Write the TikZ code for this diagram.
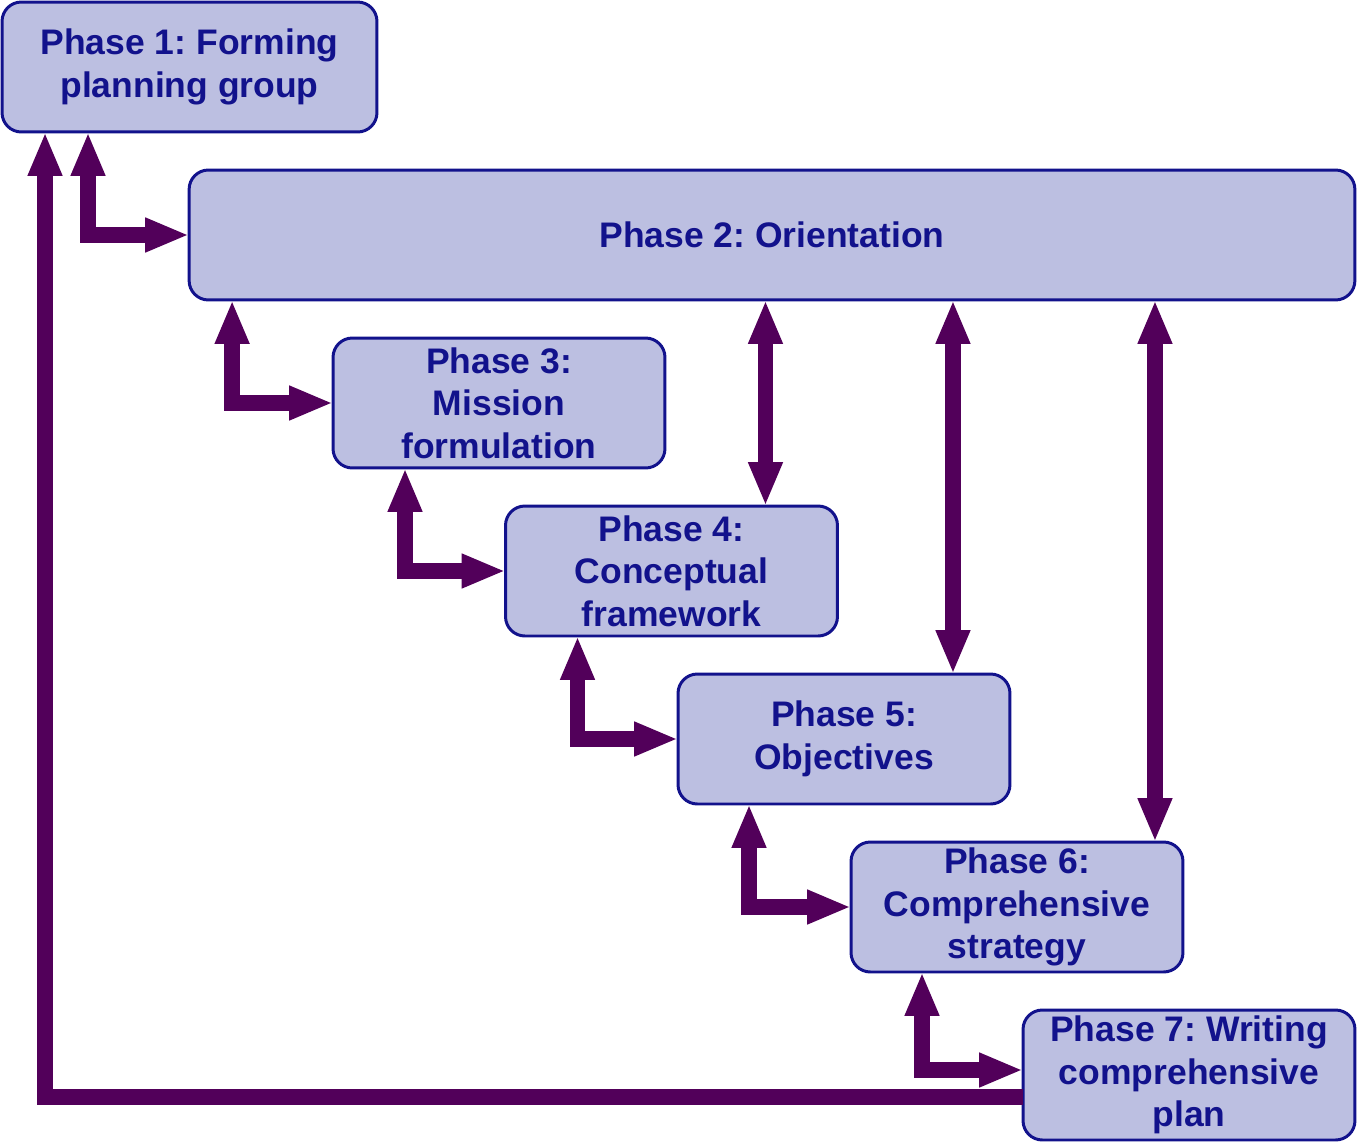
\documentclass[tikz,border=0pt]{standalone}
\usepackage{fontspec}
\setmainfont{Liberation Sans}
\frenchspacing
\usetikzlibrary{arrows.meta, positioning}
\definecolor{boxfill}{HTML}{BCBFE1}
\definecolor{boxline}{HTML}{12128C}
\definecolor{linkcol}{HTML}{52005A}
\newcommand{\boxH}{2.6cm}
\newcommand{\boxW}{6.64cm}

\tikzset{
  phase/.style={draw=boxline, fill=boxfill, line width=1.7pt, rounded corners=11pt,
    minimum height=\boxH, minimum width=\boxW, inner sep=0pt, outer sep=0pt, align=center,
    text=boxline, font=\fontsize{20.2}{24.2}\selectfont\bfseries},
  link/.style={draw=linkcol, line width=9pt, line join=miter,
    arrows={Triangle[length=25pt,width=18pt]-Triangle[length=25pt,width=18pt]}},
  back/.style={draw=linkcol, line width=9pt, line join=miter,
    -{Triangle[length=25pt,width=18pt]}}
}

\begin{document}
\begin{tikzpicture}[x=0.02cm, y=-0.02cm]
\useasboundingbox (0,0) rectangle (1357,1143);

\node[phase, minimum width=7.5cm] at (189.5,67) (p1) {Phase 1: Forming\\planning group};
\node[phase, minimum width=23.32cm] at (772,235) (p2) {Phase 2: Orientation};
\node[phase] at (499,403) (p3) {Phase 3:\\Mission\\formulation};
\node[phase] at (671.5,571) (p4) {Phase 4:\\Conceptual\\framework};
\node[phase] at (844,739) (p5) {Phase 5:\\Objectives};
\node[phase] at (1017,907) (p6) {Phase 6:\\Comprehensive\\strategy};
\node[phase] at (1189,1075) (p7) {Phase 7: Writing\\comprehensive\\plan};

% elbow links down the staircase
\draw[link] ([xshift=1.72cm]p1.south west) |- (p2.west);
\draw[link] ([xshift=0.86cm]p2.south west) |- (p3.west);
\draw[link] ([xshift=1.44cm]p3.south west) |- (p4.west);
\draw[link] ([xshift=1.44cm]p4.south west) |- (p5.west);
\draw[link] ([xshift=1.42cm]p5.south west) |- (p6.west);
\draw[link] ([xshift=1.42cm]p6.south west) |- ([yshift=0.1cm]p7.west);

% straight links from orientation
\draw[link] ([xshift=1.88cm]p4.north |- p2.south) -- ([xshift=1.88cm]p4.north);
\draw[link] ([xshift=2.18cm]p5.north |- p2.south) -- ([xshift=2.18cm]p5.north);
\draw[link] ([xshift=2.76cm]p6.north |- p2.south) -- ([xshift=2.76cm]p6.north);

% feedback loop
\draw[back] ([yshift=-0.44cm]p7.west) -| ([xshift=0.86cm]p1.south west);

\end{tikzpicture}
\end{document}
